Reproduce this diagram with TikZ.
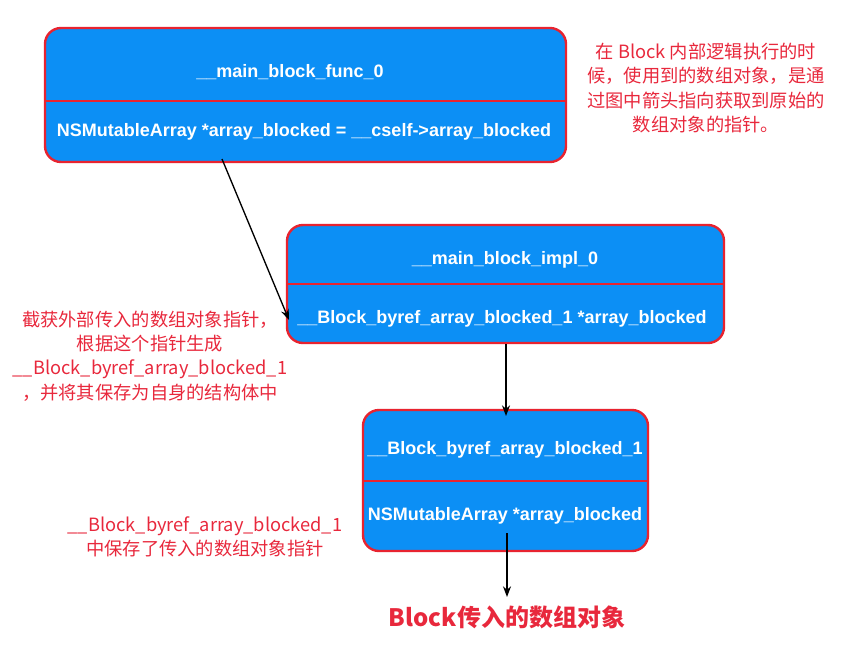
\documentclass[tikz,border=0pt]{standalone}
\usepackage{fontspec}
\setmainfont{Liberation Sans}
\newfontfamily\cjk{Noto Sans CJK SC}
\usetikzlibrary{arrows.meta}
\definecolor{boxblue}{RGB}{12,143,245}
\definecolor{boxred}{RGB}{232,35,47}
\definecolor{notered}{RGB}{232,40,60}
\tikzset{
  box/.style={draw=boxred, line width=1.8pt, fill=boxblue, rounded corners=12pt, inner sep=0pt},
  boxtext/.style={text=white, font=\fontsize{13.5}{16}\selectfont\bfseries, inner sep=0pt},
  note/.style={text=notered, font=\cjk\fontsize{13.7}{18.2}\selectfont, align=center, inner sep=0pt},
  divider/.style={draw=boxred, line width=1.8pt},
  arr/.style={-{Stealth[length=8pt,width=6pt]}, line width=1pt, black}
}
\begin{document}
\begin{tikzpicture}[x=0.75pt,y=-0.75pt]
\useasboundingbox (0,0) rectangle (852,650);
% box 1
\node[box, minimum width=521*0.75pt, minimum height=134*0.75pt] (b1) at (305.5,95) {};
\draw[divider] (45,101) -- (566,101);
\node[boxtext] (t1) at (290,72) {\_\_main\_block\_func\_0};
\node[boxtext] (f1) at (304,132) {NSMutableArray *array\_blocked = \_\_cself->array\_blocked};
% box 2
\node[box, minimum width=437*0.75pt, minimum height=118*0.75pt] (b2) at (505.5,284) {};
\draw[divider] (287,284) -- (724,284);
\node[boxtext] (t2) at (505,260) {\_\_main\_block\_impl\_0};
\node[boxtext] (f2) at (502,319) {\_\_Block\_byref\_array\_blocked\_1 *array\_blocked};
% box 3
\node[box, minimum width=285*0.75pt, minimum height=141*0.75pt] (b3) at (505.5,480.5) {};
\draw[divider] (363,481) -- (648,481);
\node[boxtext] (t3) at (505,450) {\_\_Block\_byref\_array\_blocked\_1};
\node[boxtext] (f3) at (505,516) {NSMutableArray *array\_blocked};
% notes
\node[note] (n1) at (706,88) {在 Block 内部逻辑执行的时\\候，使用到的数组对象，是通\\过图中箭头指向获取到原始的\\数组对象的指针。};
\node[note] (n2) at (150,356) {截获外部传入的数组对象指针，\\根据这个指针生成\\\_\_Block\_byref\_array\_blocked\_1\\，并将其保存为自身的结构体中};
\node[note] (n3) at (205,537) {\_\_Block\_byref\_array\_blocked\_1\\中保存了传入的数组对象指针};
\node[text=notered, font=\cjk\fontsize{18}{20}\selectfont\bfseries, inner sep=0pt] (res) at (507,617) {Block传入的数组对象};
% arrows
\coordinate (a1s) at (222,159);
\coordinate (a1e) at (289,320);
\draw[arr] (a1s) -- (a1e);
\draw[arr] (b2.south -| 506,0) -- (506,416);
\coordinate (a3s) at (507,533);
\draw[arr] (a3s) -- (507,597);
\end{tikzpicture}
\end{document}
